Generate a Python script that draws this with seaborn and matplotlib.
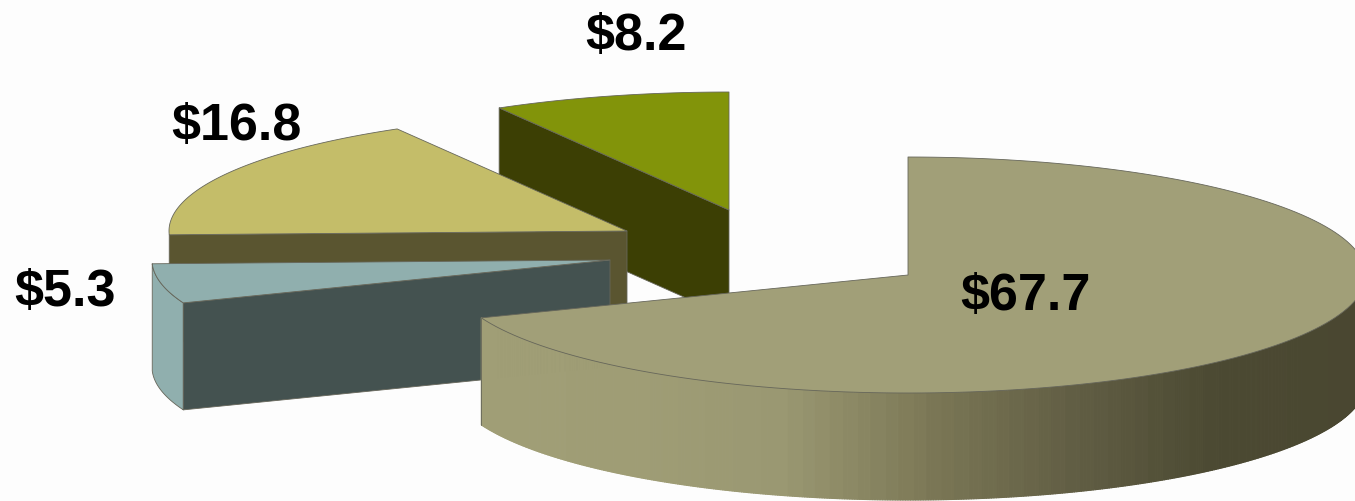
import numpy as np
import matplotlib
matplotlib.use("Agg")
import matplotlib.pyplot as plt
from matplotlib.collections import PolyCollection
from matplotlib.patches import Polygon
import seaborn as sns

# Slices in clockwise order from twelve o'clock
values = [67.7, 5.3, 16.8, 8.2]
labels = ["$67.7", "$5.3", "$16.8", "$8.2"]
top_colors = ["#a19f78", "#90afae", "#c4bd69", "#82940a"]
wall_colors = ["#a19f78", "#445250", "#5a5530", "#3c3f04"]

# Exploded apex of every slice and label centres, in canvas units
apex_x = [908, 610, 627, 729]
apex_y = [276, 261, 232, 211]
label_x = [1025, 65, 236, 636]
label_y = [297, 293, 126, 37]

# Ellipse of the tilted disc and its thickness
RX, RY, DEPTH = 458, 118, 107
EDGE = "#66665a"

# Shading along the outer wall of the big slice, left to right
wall_stops = ["#a09e76", "#9f9d75", "#9a9872", "#7c7856", "#615e44", "#4b4932", "#4a4731"]

sns.set_theme(style="white")
plt.rcParams["font.family"] = ["Liberation Sans", "DejaVu Sans"]

fig = plt.figure(figsize=(13.55, 5.02), dpi=100, facecolor="#fdfdfd")
ax = fig.add_axes([0, 0, 1, 1])
ax.set_facecolor("#fdfdfd")
ax.set_xlim(0, 1355)
ax.set_ylim(502, 0)
ax.axis("off")


def rim(cx, cy, a0, a1, n=160):
    """Points on the ellipse between two clockwise angles (radians from the top)."""
    t = np.linspace(a0, a1, n)
    return np.column_stack([cx + RX * np.sin(t), cy - RY * np.cos(t)])


def poly(points, color, z, edge=EDGE):
    ax.add_patch(Polygon(points, closed=True, facecolor=color, edgecolor=edge,
                         linewidth=0.6, zorder=z, joinstyle="round"))


total = sum(values)
edges = np.cumsum([0] + values) / total * 2 * np.pi
drop = np.array([0, DEPTH])

# Back slices are painted first so the nearer ones cover them
for idx, z in [(3, 1), (2, 2), (1, 3), (0, 4)]:
    a0, a1 = edges[idx], edges[idx + 1]
    apex = np.array([apex_x[idx], apex_y[idx]], dtype=float)
    arc = rim(apex[0], apex[1], a0, a1)

    if idx == 0:
        # Outer wall of the big slice, one thin shaded strip per step
        palette = sns.blend_palette(wall_stops, n_colors=64)
        front = rim(apex[0], apex[1], np.pi / 2, a1, 500)
        left = arc[:, 0].min()
        quads, shades = [], []
        for p, q in zip(front[:-1], front[1:]):
            quads.append([p, q, q + drop, p + drop])
            frac = np.clip((min(p[0], q[0]) - left) / (1355 - left), 0, 1)
            shades.append(palette[int(frac * 63)])
        ax.add_collection(PolyCollection(quads, facecolors=shades, edgecolors=shades,
                                         linewidths=0.8, zorder=z))
        ax.plot([front[-1, 0]] * 2, [front[-1, 1], front[-1, 1] + DEPTH],
                color=EDGE, lw=0.6, zorder=z)
    elif idx == 1:
        # Rim of the small slice, then its cut face looking at the viewer
        poly(np.vstack([arc, arc[::-1] + drop]), top_colors[idx], z)
        poly([arc[0], apex, apex + drop, arc[0] + drop], wall_colors[idx], z)
    else:
        poly([arc[0], apex, apex + drop, arc[0] + drop], wall_colors[idx], z)

    poly(np.vstack([apex, arc]), top_colors[idx], z)

for x, y, text in zip(label_x, label_y, labels):
    ax.text(x, y, text, ha="center", va="center", fontsize=37.5, fontweight="bold",
            color="black", zorder=6)

fig.savefig("out.png", dpi=100, facecolor=fig.get_facecolor())
